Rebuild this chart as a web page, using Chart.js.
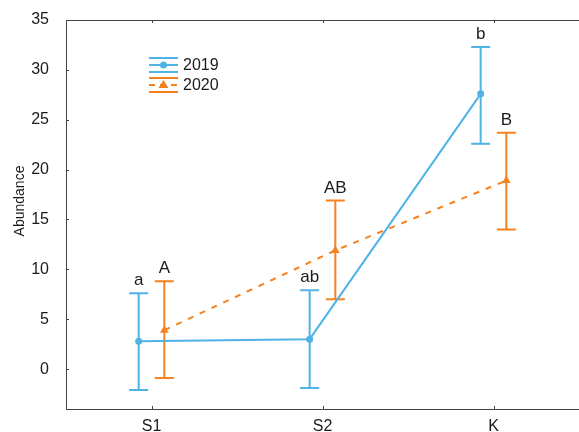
<!DOCTYPE html>
<html>
<head>
<meta charset="utf-8">
<script src="https://cdn.jsdelivr.net/npm/chart.js@4"></script>
<style>
  html, body { margin: 0; padding: 0; background: #fff; overflow: hidden; }
  #wrap { width: 579px; height: 432px; }
</style>
</head>
<body>
<div id="wrap"><canvas id="chart" width="579" height="432"></canvas></div>
<script>
// data
const categories = ['S1', 'S2', 'K'];
const years = ['2019', '2020'];
const mean2019 = [2.8, 3.0, 27.6];
const low2019 = [-2.1, -1.9, 22.6];
const high2019 = [7.6, 7.9, 32.3];
const mean2020 = [3.9, 11.9, 18.9];
const low2020 = [-0.9, 7.0, 14.0];
const high2020 = [8.8, 16.9, 23.7];
const letters2019 = ['a', 'ab', 'b'];
const letters2020 = ['A', 'AB', 'B'];
const yTicks = [0, 5, 10, 15, 20, 25, 30, 35];

const blue = '#4fb3e6';
const orange = '#f5811f';
const axisColor = '#444';
const textColor = '#1a1a1a';
const FONT = '"Liberation Sans", Arial, sans-serif';
const dodge = 0.075;

Chart.defaults.font.family = FONT;
Chart.defaults.color = textColor;

function pts(means, shift) {
  return means.map((v, i) => ({ x: i + shift, y: v }));
}

const series = [
  { name: years[0], color: blue, means: mean2019, low: low2019, high: high2019, letters: letters2019, shift: -dodge },
  { name: years[1], color: orange, means: mean2020, low: low2020, high: high2020, letters: letters2020, shift: dodge }
];

const extras = {
  id: 'extras',
  beforeDatasetsDraw(chart) {
    const c = chart.ctx, xs = chart.scales.x, ys = chart.scales.y;
    c.save();
    c.lineWidth = 2;
    series.forEach(s => {
      c.strokeStyle = s.color;
      s.means.forEach((m, i) => {
        const px = xs.getPixelForValue(i + s.shift);
        const top = ys.getPixelForValue(s.high[i]);
        const bot = ys.getPixelForValue(s.low[i]);
        c.beginPath();
        c.moveTo(px, top); c.lineTo(px, bot);
        c.moveTo(px - 9.5, top); c.lineTo(px + 9.5, top);
        c.moveTo(px - 9.5, bot); c.lineTo(px + 9.5, bot);
        c.stroke();
      });
    });
    c.restore();
  },
  afterDatasetsDraw(chart) {
    const c = chart.ctx, xs = chart.scales.x, ys = chart.scales.y, a = chart.chartArea;
    c.save();
    // letters
    c.fillStyle = textColor;
    c.font = '17px ' + FONT;
    c.textAlign = 'center';
    c.textBaseline = 'alphabetic';
    series.forEach(s => {
      s.letters.forEach((t, i) => {
        const px = xs.getPixelForValue(i + s.shift);
        const top = ys.getPixelForValue(s.high[i]);
        c.fillText(t, px, top - 8);
      });
    });
    // frame
    c.strokeStyle = axisColor;
    c.lineWidth = 1;
    c.beginPath();
    c.moveTo(a.left + 0.5, a.top + 0.5); c.lineTo(a.right, a.top + 0.5);
    c.moveTo(a.left + 0.5, a.top); c.lineTo(a.left + 0.5, a.bottom + 0.5);
    c.moveTo(a.left, a.bottom + 0.5); c.lineTo(a.right, a.bottom + 0.5);
    // small ticks
    categories.forEach((cat, i) => {
      const px = Math.round(xs.getPixelForValue(i)) + 0.5;
      c.moveTo(px, a.bottom); c.lineTo(px, a.bottom - 3);
      c.moveTo(px, a.top); c.lineTo(px, a.top + 3);
    });
    yTicks.forEach(v => {
      const py = Math.round(ys.getPixelForValue(v)) + 0.5;
      c.moveTo(a.left, py); c.lineTo(a.left + 3, py);
    });
    c.stroke();
    // axis title
    c.fillStyle = textColor;
    c.font = '14px ' + FONT;
    c.textAlign = 'center';
    c.textBaseline = 'middle';
    c.translate(20, 201);
    c.rotate(-Math.PI / 2);
    c.fillText('Abundance', 0, 0);
    c.setTransform(1, 0, 0, 1, 0, 0);
    // legend
    const lx = 149, lw = 29;
    series.forEach((s, k) => {
      const cy = 65 + k * 20;
      c.strokeStyle = s.color;
      c.fillStyle = s.color;
      c.lineWidth = 2;
      c.beginPath();
      c.moveTo(lx, cy - 7); c.lineTo(lx + lw, cy - 7);
      c.moveTo(lx, cy + 7); c.lineTo(lx + lw, cy + 7);
      c.stroke();
      c.beginPath();
      if (k === 1) c.setLineDash([6, 5]);
      c.moveTo(lx, cy); c.lineTo(lx + lw, cy);
      c.stroke();
      c.setLineDash([]);
      const mx = lx + lw / 2;
      c.beginPath();
      if (k === 0) {
        c.arc(mx, cy, 3.5, 0, Math.PI * 2);
      } else {
        c.moveTo(mx, cy - 5); c.lineTo(mx + 5, cy + 3); c.lineTo(mx - 5, cy + 3); c.closePath();
      }
      c.fill();
      c.fillStyle = textColor;
      c.font = '16px ' + FONT;
      c.textAlign = 'left';
      c.textBaseline = 'middle';
      c.fillText(s.name, lx + lw + 5, cy + 1);
    });
    c.restore();
  }
};

new Chart(document.getElementById('chart'), {
  type: 'line',
  data: {
    datasets: series.map((s, k) => ({
      label: s.name,
      data: pts(s.means, s.shift),
      borderColor: s.color,
      backgroundColor: s.color,
      borderWidth: 2,
      borderDash: k === 1 ? [6, 7] : [],
      pointStyle: k === 1 ? 'triangle' : 'circle',
      pointRadius: k === 1 ? 5 : 3.5,
      pointBorderWidth: 0,
      tension: 0,
      fill: false
    }))
  },
  plugins: [extras],
  options: {
    responsive: false,
    animation: false,
    layout: { autoPadding: false, padding: { left: 0, right: 0, top: 20, bottom: 0 } },
    plugins: { legend: { display: false }, tooltip: { enabled: false } },
    scales: {
      x: {
        type: 'linear',
        min: -0.5,
        max: 2.5,
        grid: { display: false },
        border: { display: false },
        afterBuildTicks(scale) {
          scale.ticks = categories.map((c, i) => ({ value: i }));
        },
        afterFit(scale) { scale.height = 23; },
        ticks: {
          font: { size: 16 },
          color: textColor,
          padding: 0,
          maxRotation: 0,
          callback: v => categories[v]
        }
      },
      y: {
        min: -4,
        max: 35,
        grid: { display: false },
        border: { display: false },
        afterBuildTicks(scale) {
          scale.ticks = yTicks.map(v => ({ value: v }));
        },
        afterFit(scale) { scale.width = 66; },
        ticks: { font: { size: 16 }, color: textColor, padding: 9 }
      }
    }
  }
});
</script>
</body>
</html>
